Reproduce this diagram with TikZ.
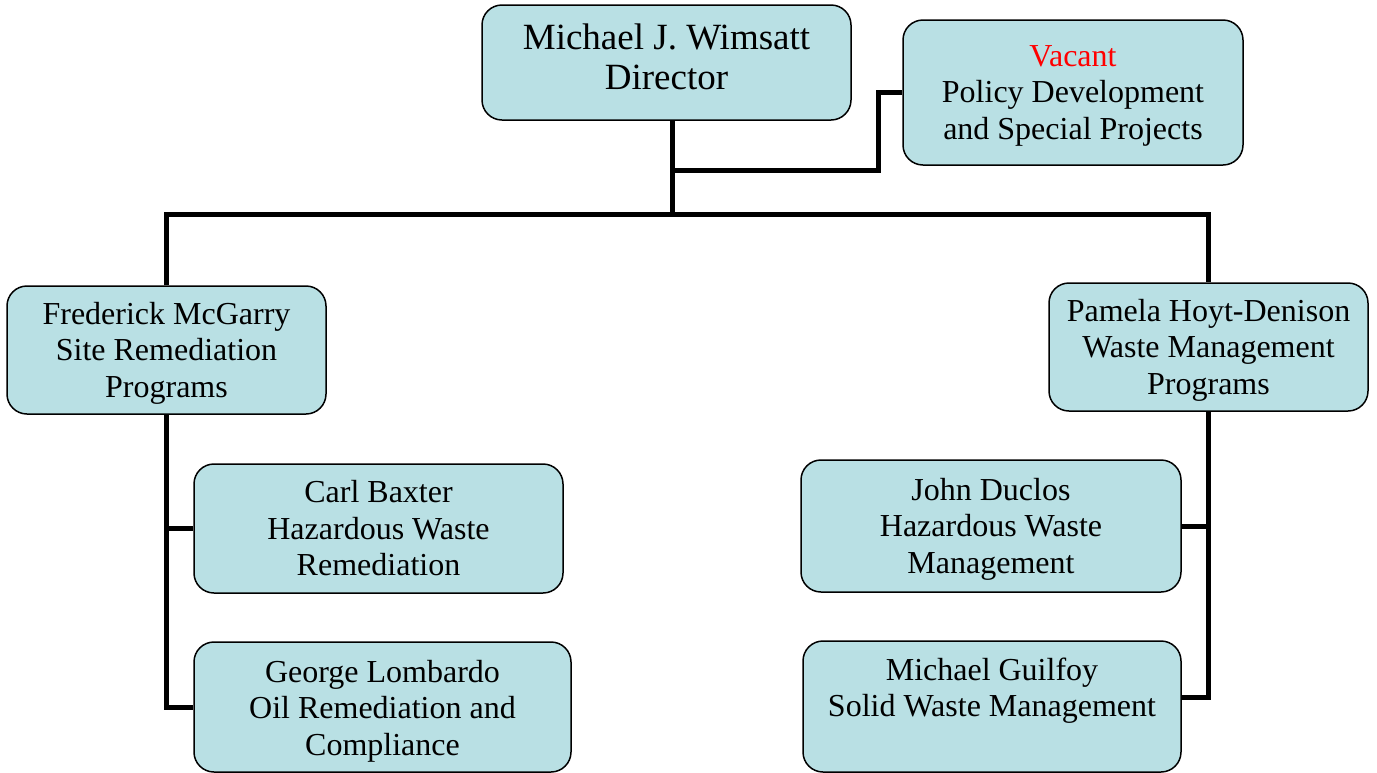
\documentclass[tikz,border=0pt]{standalone}
\usepackage{fontspec}
\setmainfont{Liberation Serif}
\definecolor{boxfill}{RGB}{185,224,228}
\tikzset{
  orgbox/.style={draw=black, line width=1.5pt, fill=boxfill, rounded corners=20pt,
    inner sep=0pt},
  boxtext/.style={inner sep=0pt, align=center, font=\fontsize{32}{36.5}\selectfont},
  conn/.style={draw=black, line width=5pt}
}
\begin{document}
\begin{tikzpicture}[x=1pt, y=-1pt]
\useasboundingbox (0,0) rectangle (1377,772);

% boxes, each with its centred text as a label
\node[orgbox, minimum width=369pt, minimum height=115pt,
  label={[boxtext, font=\fontsize{37}{40}\selectfont, yshift=6pt]center:Michael J. Wimsatt\\Director}]
  (dir) at (666.5,62.5) {};
\node[orgbox, minimum width=340pt, minimum height=145pt,
  label={[boxtext, yshift=-3pt]center:\textcolor{red}{Vacant}\\Policy Development\\and Special Projects}]
  (vac) at (1073,92.5) {};
\node[orgbox, minimum width=319pt, minimum height=128pt,
  label={[boxtext, yshift=-3pt]center:Frederick McGarry\\Site Remediation\\Programs}]
  (fred) at (166.5,350) {};
\node[orgbox, minimum width=319pt, minimum height=128pt,
  label={[boxtext, yshift=-3pt]center:Pamela Hoyt-Denison\\Waste Management\\Programs}]
  (pam) at (1208.5,347) {};
\node[orgbox, minimum width=369pt, minimum height=129pt,
  label={[boxtext]center:Carl Baxter\\Hazardous Waste\\Remediation}]
  (carl) at (378.5,528.5) {};
\node[orgbox, minimum width=377pt, minimum height=130pt,
  label={[boxtext, yshift=-4pt]center:George Lombardo\\Oil Remediation and\\Compliance}]
  (geo) at (382.5,707) {};
\node[orgbox, minimum width=380pt, minimum height=132pt,
  label={[boxtext, yshift=-3pt]center:John Duclos\\Hazardous Waste\\Management}]
  (john) at (991,526) {};
\node[orgbox, minimum width=378pt, minimum height=131pt,
  label={[boxtext, yshift=1pt]center:Michael Guilfoy\\Solid Waste Management\\\mbox{}}]
  (guil) at (992,706.5) {};

% connectors
\coordinate (bus) at (672,214);
\coordinate (vbend) at (878,170);
\draw[conn] (dir.south -| bus) -- (bus);
\draw[conn] (vac.west) -| (vbend) -- (vbend -| bus);
\draw[conn] (fred.north) |- (bus) -| (pam.north);
\draw[conn] (fred.south) |- (geo.west);
\draw[conn] (fred.south |- carl.west) -- (carl.west);
\draw[conn] (pam.south) |- ([yshift=9pt]guil.east);
\draw[conn] (pam.south |- john.east) -- (john.east);
\end{tikzpicture}
\end{document}
